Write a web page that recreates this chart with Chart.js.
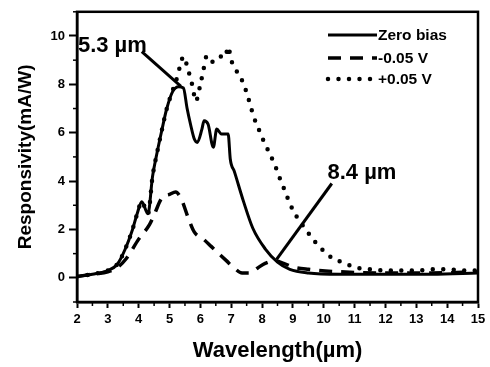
<!DOCTYPE html>
<html><head><meta charset="utf-8">
<script src="https://cdn.jsdelivr.net/npm/chart.js@4/dist/chart.umd.min.js"></script>
<style>html,body{margin:0;padding:0;background:#fff}#c{display:block}</style>
</head><body>
<canvas id="c" width="490" height="367"></canvas>
<script>
// ---- data ----
const zeroX = [2.0,2.5,3.0,3.3,3.55,3.8,3.95,4.1,4.3,4.45,4.6,4.75,4.9,5.1,5.3,5.45,5.57,5.68,5.8,5.9,6.05,6.12,6.25,6.42,6.53,6.68,6.9,6.97,7.1,7.4,7.7,8.1,8.5,8.9,9.5,10.5,12,13.5,15];
const zeroY = [0.05,0.15,0.3,0.55,1.15,2.0,2.65,3.15,2.65,4.2,5.2,6.1,6.95,7.7,7.9,7.85,7.0,6.35,5.75,5.6,6.15,6.5,6.35,5.4,6.15,5.95,5.95,4.9,4.4,3.15,2.05,1.2,0.65,0.35,0.2,0.15,0.15,0.15,0.2];
const negX = [2.0,2.5,3.0,3.3,3.6,4.0,4.35,4.5,4.75,5.0,5.2,5.4,5.6,5.8,6.1,6.35,6.6,6.85,7.1,7.35,7.6,7.85,8.1,8.4,8.7,9.0,9.5,10.5,12,13.5,15];
const negY = [0.05,0.15,0.25,0.42,0.8,1.6,2.2,2.6,3.3,3.45,3.55,3.2,2.5,1.9,1.6,1.3,1.0,0.7,0.4,0.2,0.2,0.4,0.6,0.7,0.6,0.45,0.35,0.25,0.2,0.2,0.25];
const posX = [2.0,2.5,3.0,3.3,3.55,3.8,3.95,4.1,4.3,4.45,4.6,4.75,4.9,5.1,5.25,5.35,5.45,5.6,5.75,5.85,6.0,6.1,6.2,6.35,6.5,6.65,6.8,6.9,7.0,7.12,7.34,7.5,7.74,7.9,8.06,8.26,8.42,8.58,8.74,8.9,9.12,9.39,9.71,10.26,10.63,11.07,11.5,12,12.5,13,13.5,14,14.5,15];
const posY = [0.05,0.15,0.3,0.55,1.15,2.0,2.65,3.15,2.65,4.2,5.2,6.1,6.95,7.75,8.3,8.8,9.15,8.6,7.9,7.3,8.0,8.6,9.15,8.9,9.1,9.15,9.1,9.55,9.0,8.67,8.19,7.65,6.62,6.12,5.63,5.1,4.65,4.1,3.6,3.07,2.53,2.05,1.5,0.83,0.63,0.42,0.35,0.3,0.3,0.3,0.35,0.35,0.3,0.3];
const seriesNames = ['Zero bias','-0.05 V','+0.05 V'];
const xTicks = [2,3,4,5,6,7,8,9,10,11,12,13,14,15];
const yTicks = [0,2,4,6,8,10];
const annotText = ['5.3 \u00b5m','8.4 \u00b5m'];
const annotTextPos = [[2.03,9.6],[10.12,4.35]];
const annotLine = [[[4.1,9.35],[5.37,7.92]],[[10.26,3.9],[8.47,0.76]]];

const pts = (xs,ys)=>xs.map((x,i)=>({x:x,y:ys[i]}));
const FONT = "'Liberation Sans', Arial, sans-serif";

const extras = {
  id:'extras',
  afterDatasetsDraw(chart){
    const ctx = chart.ctx, ca = chart.chartArea;
    const xs = chart.scales.x, ys = chart.scales.y;
    ctx.save();
    // frame
    ctx.strokeStyle='#000'; ctx.lineWidth=2.5;
    ctx.strokeRect(ca.left, ca.top, ca.right-ca.left, ca.bottom-ca.top);
    // minor ticks
    ctx.lineWidth=1.5;
    for(let v=2.5; v<15; v+=1){
      const p = xs.getPixelForValue(v);
      ctx.beginPath(); ctx.moveTo(p, ca.bottom); ctx.lineTo(p, ca.bottom+4); ctx.stroke();
    }
    for(let v=-1; v<=11; v+=2){
      const p = ys.getPixelForValue(v);
      ctx.beginPath(); ctx.moveTo(ca.left, p); ctx.lineTo(ca.left-4, p); ctx.stroke();
    }
    // annotations
    ctx.lineWidth=3; ctx.lineCap='butt';
    annotLine.forEach(l=>{
      ctx.beginPath();
      ctx.moveTo(xs.getPixelForValue(l[0][0]), ys.getPixelForValue(l[0][1]));
      ctx.lineTo(xs.getPixelForValue(l[1][0]), ys.getPixelForValue(l[1][1]));
      ctx.stroke();
    });
    ctx.fillStyle='#000'; ctx.textBaseline='middle'; ctx.textAlign='left';
    ctx.font = "bold 22px "+FONT;
    annotText.forEach((t,i)=>{
      ctx.fillText(t, xs.getPixelForValue(annotTextPos[i][0]), ys.getPixelForValue(annotTextPos[i][1]));
    });
    // legend
    const lx = 328, lw = 49, rows=[35,58,79];
    chart.data.datasets.forEach((ds,i)=>{
      ctx.save();
      ctx.strokeStyle='#000';
      ctx.lineWidth = ds.borderWidth;
      ctx.setLineDash(ds.borderDash||[]);
      ctx.lineCap = ds.borderCapStyle||'butt';
      ctx.beginPath(); ctx.moveTo(lx, rows[i]); ctx.lineTo(lx+lw, rows[i]); ctx.stroke();
      ctx.restore();
      ctx.font = "bold 15.5px "+FONT;
      ctx.fillText(seriesNames[i], lx+lw+1, rows[i]+1);
    });
    ctx.restore();
  }
};

new Chart(document.getElementById('c'), {
  type:'line',
  data:{ datasets:[
    {label:seriesNames[0], data:pts(zeroX,zeroY), borderColor:'#000', borderWidth:3, pointRadius:0, cubicInterpolationMode:'monotone', fill:false},
    {label:seriesNames[1], data:pts(negX,negY), borderColor:'#000', borderWidth:3.5, borderDash:[13,9], pointRadius:0, cubicInterpolationMode:'monotone', fill:false},
    {label:seriesNames[2], data:pts(posX,posY), borderColor:'#000', borderWidth:4.5, borderDash:[0,10.5], borderCapStyle:'round', pointRadius:0, cubicInterpolationMode:'monotone', fill:false}
  ]},
  options:{
    responsive:false, animation:false, devicePixelRatio:1,
    layout:{padding:{top:8,right:12,left:0,bottom:0}},
    plugins:{legend:{display:false}, tooltip:{enabled:false}},
    scales:{
      x:{type:'linear', min:2, max:15,
        afterBuildTicks(s){ s.ticks = xTicks.map(v=>({value:v})); },
        afterFit(s){ s.height = 65; },
        grid:{drawOnChartArea:false, drawTicks:true, tickLength:6, tickWidth:2, tickColor:'#000'},
        border:{display:true, color:'#000', width:2.5},
        ticks:{color:'#000', padding:4, maxRotation:0, autoSkip:false, font:{family:FONT, size:13, weight:'bold'}},
        title:{display:true, text:'Wavelength(\u00b5m)', color:'#000', padding:{top:0,bottom:3}, font:{family:FONT, size:22, weight:'bold'}}
      },
      y:{type:'linear', min:-1, max:11,
        afterBuildTicks(s){ s.ticks = yTicks.map(v=>({value:v})); },
        afterFit(s){ s.width = 77; },
        grid:{drawOnChartArea:false, drawTicks:true, tickLength:8, tickWidth:2, tickColor:'#000'},
        border:{display:true, color:'#000', width:2.5},
        ticks:{color:'#000', padding:4, font:{family:FONT, size:13, weight:'bold'}},
        title:{display:true, text:'Responsivity(mA/W)', color:'#000', padding:{top:14,bottom:0}, font:{family:FONT, size:19, weight:'bold'}}
      }
    }
  },
  plugins:[extras]
});
</script>
</body></html>
